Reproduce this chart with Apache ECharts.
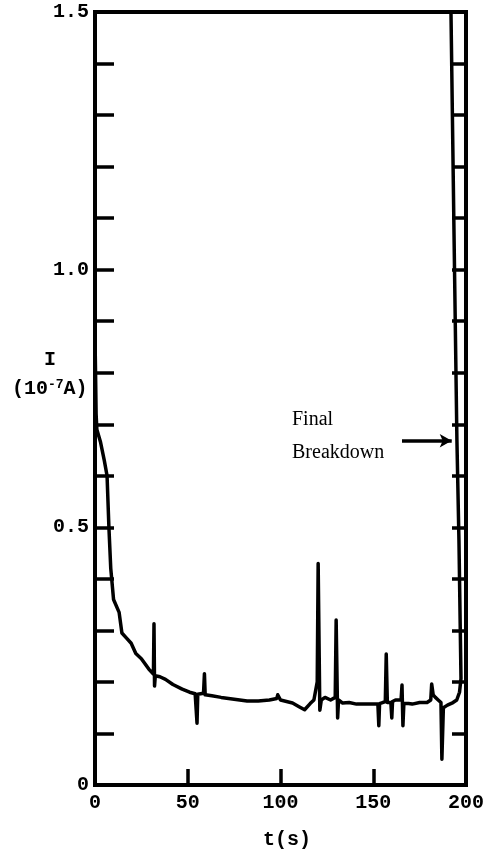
<!DOCTYPE html>
<html>
<head>
<meta charset="utf-8">
<style>
  html, body { margin: 0; padding: 0; background: #fff; }
  #chart { width: 492px; height: 853px; }
</style>
<script src="https://cdn.jsdelivr.net/npm/echarts@6/dist/echarts.min.js"></script>
</head>
<body>
<div id="chart"></div>
<script>
// Leakage current I (10^-7 A) versus time t (s) up to final breakdown
const timeS = [
  0, 0.3, 0.6, 1, 3, 5, 6.5, 7, 7.5, 8.5, 10, 13, 14.5, 17, 19.5, 22, 25, 29,
  31.5, 31.8, 32.1, 32.5, 35, 38, 42, 47, 51, 54, 55, 55.4, 58.5, 59, 59.4,
  63, 68, 74, 78, 82, 88, 94, 98, 98.5, 100, 106.5, 110, 113, 116, 118,
  119.8, 120.3, 121.2, 122, 124, 125, 127, 129.5, 130, 130.8, 131.3, 133.5,
  137, 141, 148, 152.5, 153, 153.4, 155, 156.5, 157, 157.6, 159.5, 160, 160.4,
  162, 165, 165.5, 166, 166.5, 169, 171, 175, 179, 181, 181.5, 182.3, 183.5,
  185, 186.5, 187, 187.8, 190, 193, 195, 196.5, 197.3, 196.2, 195.1, 193.5, 191.9
];
const currentI = [
  0.87, 0.80, 0.72, 0.69, 0.665, 0.63, 0.60, 0.55, 0.50, 0.42, 0.36, 0.335, 0.295, 0.285, 0.275, 0.255, 0.245, 0.225,
  0.215, 0.313, 0.192, 0.212, 0.21, 0.205, 0.195, 0.186, 0.18, 0.177, 0.12, 0.176, 0.178, 0.216, 0.175,
  0.173, 0.17, 0.167, 0.165, 0.163, 0.163, 0.165, 0.168, 0.175, 0.165, 0.159, 0.152, 0.146, 0.158, 0.165,
  0.20, 0.43, 0.145, 0.165, 0.17, 0.173, 0.165, 0.17, 0.32, 0.13, 0.165, 0.159,
  0.16, 0.157, 0.157, 0.157, 0.115, 0.158, 0.16, 0.162, 0.254, 0.16, 0.16, 0.13, 0.162,
  0.165, 0.165, 0.194, 0.115, 0.158, 0.158, 0.157, 0.16, 0.16, 0.165, 0.196, 0.175, 0.17,
  0.165, 0.16, 0.05, 0.15, 0.155, 0.16, 0.165, 0.18, 0.207, 0.475, 0.67, 1.08, 1.5
];
const xTickValues = [0, 50, 100, 150, 200];
const yLabelValues = [0, 0.5, 1.0, 1.5];

// Arrow pointing at the breakdown trace
const arrowFrom = [165.5, 0.668];
const arrowTo = [192.3, 0.668];

const points = timeS.map((t, k) => [t, currentI[k]]);

const monoBold = {
  fontFamily: 'Liberation Mono',
  fontWeight: 'bold',
  fontSize: 20,
  color: '#000'
};

const chart = echarts.init(document.getElementById('chart'), null, { renderer: 'canvas' });

chart.setOption({
  animation: false,
  backgroundColor: '#fff',
  grid: {
    left: 95, right: 26, top: 12, bottom: 68,
    show: true, borderColor: '#000', borderWidth: 4, backgroundColor: 'transparent'
  },
  xAxis: {
    type: 'value',
    min: 0, max: 200, interval: 50,
    axisLine: { show: true, onZero: false, lineStyle: { color: '#000', width: 4 } },
    axisTick: { show: true, inside: true, length: 16, lineStyle: { color: '#000', width: 3.5 } },
    axisLabel: Object.assign({ margin: 8, formatter: v => xTickValues.includes(v) ? String(v) : '' }, monoBold),
    splitLine: { show: false }
  },
  yAxis: [
    {
      type: 'value',
      min: 0, max: 1.5, interval: 0.1,
      position: 'left',
      axisLine: { show: true, onZero: false, lineStyle: { color: '#000', width: 4 } },
      axisTick: { show: true, inside: true, length: 19, lineStyle: { color: '#000', width: 3.5 } },
      axisLabel: Object.assign({
        margin: 6,
        formatter: v => {
          const r = Math.round(v * 10) / 10;
          const hit = yLabelValues.find(y => Math.abs(y - r) < 1e-6);
          if (hit === undefined) return '';
          return hit === 0 ? '0' : hit.toFixed(1);
        }
      }, monoBold),
      splitLine: { show: false }
    },
    {
      type: 'value',
      min: 0, max: 1.5, interval: 0.1,
      position: 'right',
      axisLine: { show: true, onZero: false, lineStyle: { color: '#000', width: 4 } },
      axisTick: { show: true, inside: true, length: 14, lineStyle: { color: '#000', width: 3.5 } },
      axisLabel: { show: false },
      splitLine: { show: false }
    }
  ],
  series: [
    {
      type: 'line',
      data: points,
      showSymbol: false,
      symbol: 'none',
      clip: true,
      lineStyle: { color: '#000', width: 3.5, join: 'round', cap: 'round' },
      markLine: {
        silent: true,
        animation: false,
        label: { show: false },
        lineStyle: { color: '#000', width: 3.5, type: 'solid' },
        symbolSize: [10, 12],
        data: [[
          { coord: arrowFrom, symbol: 'none' },
          { coord: arrowTo, symbol: 'arrow' }
        ]]
      }
    }
  ],
  graphic: [
    {
      type: 'text', left: 44, top: 350,
      style: { text: 'I', fill: '#000', font: 'bold 20px "Liberation Mono"' }
    },
    {
      type: 'text', left: 12, top: 378,
      style: {
        text: '(10{s|-7}A)',
        fill: '#000',
        font: 'bold 20px "Liberation Mono"',
        rich: {
          s: { font: 'bold 13px "Liberation Mono"', fill: '#000', verticalAlign: 'top', padding: [0, 0, 8, 0] }
        }
      }
    },
    {
      type: 'text', left: 292, top: 410,
      style: { text: 'Final', fill: '#000', font: '20px "Liberation Serif"' }
    },
    {
      type: 'text', left: 292, top: 443,
      style: { text: 'Breakdown', fill: '#000', font: '20px "Liberation Serif"' }
    },
    {
      type: 'text', left: 263, top: 830,
      style: { text: 't(s)', fill: '#000', font: 'bold 20px "Liberation Mono"' }
    }
  ]
});
</script>
</body>
</html>
